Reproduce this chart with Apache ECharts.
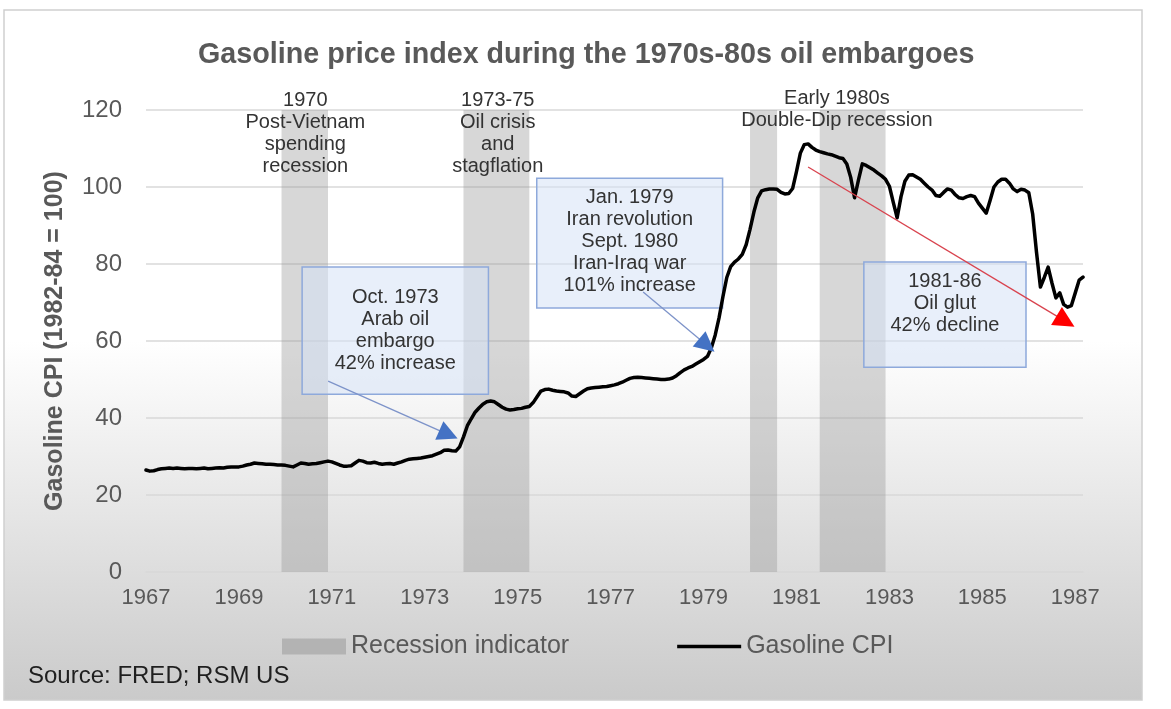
<!DOCTYPE html>
<html>
<head>
<meta charset="utf-8">
<title>Gasoline price index during the 1970s-80s oil embargoes</title>
<script src="https://cdn.jsdelivr.net/npm/echarts@6/dist/echarts.min.js"></script>
<style>
  html, body { margin: 0; padding: 0; background: #fff; }
  #chart { width: 1171px; height: 709px; }
</style>
</head>
<body>
<div id="chart"></div>
<script>
// monthly gasoline CPI (1982-84 = 100), starting Jan 1967
var firstYear = 1967;
var gasolineCpi = [
  26.5, 26.2, 26.3, 26.6, 26.8, 26.9, 27.0, 26.9, 27.0, 26.9, 26.8, 26.9,
  26.9, 26.8, 26.9, 27.0, 26.8, 26.9, 27.0, 27.1, 27.0, 27.2, 27.3, 27.3,
  27.3, 27.5, 27.8, 28.0, 28.3, 28.2, 28.1, 28.0, 28.0, 27.9, 27.8, 27.8,
  27.7, 27.5, 27.3, 27.8, 28.3, 28.2, 28.0, 28.1, 28.2, 28.4, 28.6, 28.8,
  28.6, 28.2, 27.8, 27.5, 27.5, 27.6, 28.3, 29.0, 28.8, 28.4, 28.3, 28.5,
  28.2, 28.0, 28.1, 28.2, 28.0, 28.3, 28.6, 29.0, 29.3, 29.4, 29.5, 29.6,
  29.8, 30.0, 30.2, 30.6, 31.0, 31.6, 31.7, 31.5, 31.4, 32.5, 35.1, 38.0,
  39.8, 41.5, 42.6, 43.6, 44.2, 44.4, 44.2, 43.5, 42.8, 42.3, 42.1, 42.2,
  42.4, 42.5, 42.8, 43.0, 44.0, 45.5, 47.0, 47.4, 47.5, 47.2, 47.0, 46.9,
  46.8, 46.5, 45.7, 45.6, 46.3, 47.0, 47.6, 47.8, 47.9, 48.0, 48.1, 48.2,
  48.4, 48.6, 48.9, 49.3, 49.8, 50.3, 50.5, 50.6, 50.5, 50.4, 50.3, 50.2,
  50.1, 50.0, 50.0, 50.1, 50.4, 51.0, 51.8, 52.5, 53.0, 53.4, 54.0, 54.6,
  55.2, 56.0, 58.2, 61.5, 66.0, 71.5, 76.5, 79.3, 80.5, 81.3, 82.5, 85.0,
  89.0, 93.5, 97.2, 99.0, 99.3, 99.5, 99.5, 99.4, 98.6, 98.2, 98.3, 99.6,
  104.0, 108.8, 111.0, 111.2, 110.3, 109.6, 109.2, 108.9, 108.6, 108.4, 108.0, 107.6,
  107.4, 106.0, 102.5, 97.2, 101.8, 106.0, 105.6, 105.0, 104.4, 103.6, 102.9, 102.0,
  100.2, 96.0, 92.0, 97.5, 101.5, 103.1, 103.2, 102.6, 102.0, 101.0, 100.0, 99.2,
  97.8, 97.6, 98.6, 99.5, 99.2, 98.0, 97.2, 97.0, 97.5, 97.8, 97.5, 95.8,
  94.5, 93.2, 96.5, 100.0, 101.3, 102.0, 102.0, 101.0, 99.5, 98.8, 99.4, 99.2,
  98.5, 93.0, 83.0, 74.0, 76.5, 79.2, 75.0, 71.2, 72.5, 69.5, 68.8, 69.2,
  72.5, 75.8, 76.6
];

// recessions (decimal years, start / end)
var recStart = [1969.917, 1973.833, 1980.0, 1981.5];
var recEnd = [1970.917, 1975.25, 1980.583, 1982.917];
var recNotes = [
  '1970\nPost-Vietnam\nspending\nrecession',
  '1973-75\nOil crisis\nand\nstagflation',
  'Early 1980s\nDouble-Dip recession'
];
var boxNotes = [
  'Oct. 1973\nArab oil\nembargo\n42% increase',
  'Jan. 1979\nIran revolution\nSept. 1980\nIran-Iraq war\n101% increase',
  '1981-86\nOil glut\n42% decline'
];

// where the notes sit, in axis units (last item: extra pixel offset)
var recNoteAt = [[1970.43, 113.9, 0], [1974.57, 114.0, 0], [1981.87, 119.5, -2]];
var boxAt = [
  [[1970.36, 79.2], [1974.37, 46.2], 0],
  [[1975.41, 102.3], [1979.41, 68.6], -2],
  [[1982.45, 80.5], [1985.94, 53.2], -11]
];
var arrows = [
  { from: [1970.92, 49.6], to: [1973.51, 35.7], line: '#7d93c9', head: '#4472c4', size: 20 },
  { from: [1977.70, 72.7], to: [1979.07, 58.9], line: '#7d93c9', head: '#4472c4', size: 20 },
  { from: [1981.25, 105.2], to: [1986.79, 65.1], line: '#d9434e', head: '#ff0000', size: 21 }
];

var font = '"Liberation Sans", Arial, sans-serif';
var lastX = firstYear + (gasolineCpi.length - 1) / 12;
var cpiPoints = gasolineCpi.map(function (v, i) {
  return [firstYear + i / 12, v];
});

// shaft + a short head segment so the head can have its own colour
var arrowLines = [];
arrows.forEach(function (a) {
  var shaft = { color: a.line, width: 1.3, type: 'solid' };
  arrowLines.push([
    { coord: a.from, symbol: 'none', lineStyle: shaft },
    { coord: a.to, symbol: 'none', lineStyle: shaft }
  ]);
  var back = [
    a.to[0] - (a.to[0] - a.from[0]) * 0.03,
    a.to[1] - (a.to[1] - a.from[1]) * 0.03
  ];
  var headStyle = { color: a.head, width: 1.3, type: 'solid' };
  arrowLines.push([
    { coord: back, symbol: 'none', lineStyle: headStyle },
    { coord: a.to, symbol: 'triangle', symbolSize: a.size, lineStyle: headStyle }
  ]);
});

var chart = echarts.init(document.getElementById('chart'));

var option = {
  backgroundColor: '#fff',
  animation: false,
  textStyle: { fontFamily: font },
  graphic: [
    {
      type: 'rect', z: -10, silent: true,
      shape: { x: 4, y: 10, width: 1138, height: 690 },
      style: {
        fill: new echarts.graphic.LinearGradient(0, 0, 0, 1, [
          { offset: 0, color: '#ffffff' },
          { offset: 0.48, color: '#ffffff' },
          { offset: 1, color: '#cacaca' }
        ]),
        stroke: '#cfcfcf', lineWidth: 1.5
      }
    },
    {
      type: 'text', left: 28, top: 664,
      style: { text: 'Source: FRED; RSM US', fontSize: 24, fontFamily: font, fill: '#1f1f1f' }
    }
  ],
  title: {
    text: 'Gasoline price index during the 1970s-80s oil embargoes',
    left: 193,
    top: 36,
    textStyle: { fontSize: 28.7, fontWeight: 'bold', color: '#595959', fontFamily: font }
  },
  legend: {
    left: 277,
    top: 629,
    itemWidth: 64,
    itemHeight: 16,
    itemGap: 108,
    textStyle: { fontSize: 25, color: '#595959', fontFamily: font },
    data: [
      { name: 'Recession indicator', icon: 'rect', itemStyle: { color: '#b3b3b3' } },
      { name: 'Gasoline CPI', icon: 'path://M0,0 L64,0 L64,3.5 L0,3.5 Z', itemStyle: { color: '#000' } }
    ]
  },
  grid: { left: 146, right: 88, top: 110, bottom: 137 },
  xAxis: {
    type: 'value',
    min: firstYear,
    max: lastX,
    interval: 2,
    axisLine: { show: true, lineStyle: { color: '#d9d9d9', width: 1.5 } },
    axisTick: { show: false },
    splitLine: { show: false },
    axisLabel: {
      fontSize: 22, color: '#595959', margin: 15,
      formatter: function (v) {
        var r = Math.round(v);
        if (Math.abs(v - r) > 1e-6 || (r - firstYear) % 2 !== 0) return '';
        return String(r);
      }
    }
  },
  yAxis: {
    type: 'value',
    min: 0,
    max: 120,
    interval: 20,
    name: 'Gasoline CPI (1982-84 = 100)',
    nameLocation: 'middle',
    nameGap: 78,
    nameTextStyle: { fontSize: 25, fontWeight: 'bold', color: '#595959', fontFamily: font },
    axisLine: { show: false },
    axisTick: { show: false },
    splitLine: { lineStyle: { color: '#d9d9d9', width: 1.5 } },
    axisLabel: { fontSize: 24, color: '#595959', margin: 24 }
  },
  series: [
    {
      name: 'Recession indicator',
      type: 'bar',
      data: [],
      itemStyle: { color: '#b3b3b3' },
      markArea: {
        silent: true,
        itemStyle: { color: 'rgba(150,150,150,0.38)' },
        data: recStart.map(function (s, i) {
          return [{ xAxis: s }, { xAxis: recEnd[i] }];
        })
      },
      markPoint: {
        silent: true,
        symbol: 'rect',
        symbolSize: 1,
        itemStyle: { color: 'rgba(0,0,0,0)' },
        label: {
          show: true, position: 'inside', fontSize: 20, lineHeight: 22,
          color: '#333', fontFamily: font,
          formatter: function (p) { return p.name; }
        },
        data: recNotes.map(function (t, i) {
          var at = recNoteAt[i];
          return { name: t, coord: [at[0], at[1]], label: { offset: [0, at[2]] } };
        })
      }
    },
    {
      name: 'Gasoline CPI',
      type: 'line',
      data: cpiPoints,
      symbol: 'none',
      showSymbol: false,
      lineStyle: { color: '#000', width: 3.5, join: 'round', cap: 'round' },
      itemStyle: { color: '#000' },
      markArea: {
        silent: true,
        itemStyle: { color: 'rgba(214,226,245,0.55)', borderColor: '#8ea9db', borderWidth: 1.5 },
        label: {
          show: true, position: 'inside', fontSize: 20, lineHeight: 22,
          color: '#333', fontFamily: font
        },
        data: boxNotes.map(function (t, i) {
          var b = boxAt[i];
          return [
            { name: t, coord: b[0], label: { offset: [0, b[2]] } },
            { coord: b[1] }
          ];
        })
      },
      markLine: {
        silent: true,
        symbol: ['none', 'none'],
        label: { show: false },
        data: arrowLines
      }
    }
  ]
};

chart.setOption(option);
</script>
</body>
</html>
